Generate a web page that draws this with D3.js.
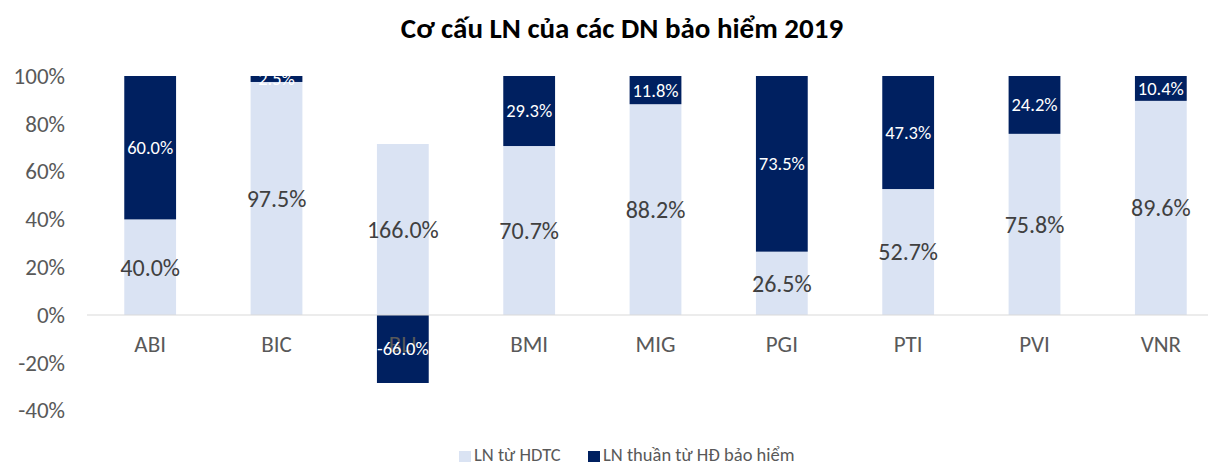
<!DOCTYPE html>
<html>
<head>
<meta charset="utf-8">
<script src="https://cdn.jsdelivr.net/npm/d3@7"></script>
<style>
    body { margin: 0; background: #fff; }
    svg { font-family: Carlito, Lato, "Open Sans", sans-serif; }
</style>
</head>
<body>
<div id="chart"></div>
<script>
const companies = ["ABI", "BIC", "BLI", "BMI", "MIG", "PGI", "PTI", "PVI", "VNR"];
const lnHdtc = [40.0, 97.5, 166.0, 70.7, 88.2, 26.5, 52.7, 75.8, 89.6];
const lnBaoHiem = [60.0, 2.5, -66.0, 29.3, 11.8, 73.5, 47.3, 24.2, 10.4];
const yTicks = [-0.4, -0.2, 0, 0.2, 0.4, 0.6, 0.8, 1.0];
const seriesNames = ["LN từ HDTC", "LN thuần từ HĐ bảo hiểm"];

const width = 1208, height = 465;
const colors = ["#dae3f3", "#002060"];

const svg = d3.select("#chart").append("svg")
    .attr("width", width)
    .attr("height", height);

// 100% stacked: each part is divided by the sum of absolute values (Excel style)
const rows = companies.map(function (c, i) {
    const total = Math.abs(lnHdtc[i]) + Math.abs(lnBaoHiem[i]);
    return {name: c, values: [lnHdtc[i], lnBaoHiem[i]], shares: [lnHdtc[i] / total, lnBaoHiem[i] / total]};
});

const x = d3.scaleBand().domain(companies).range([87, 1224]).paddingInner(0.59).paddingOuter(0.295);
const y = d3.scaleLinear().domain([-0.4, 1.0]).range([410.6, 76]);

// excel uses a plain hyphen for negatives
const pct0 = function (v) { return d3.format(".0%")(v).replace("−", "-"); };
const pct1 = function (v) { return d3.format(".1f")(v).replace("−", "-") + "%"; };

svg.append("text")
    .attr("x", 622).attr("y", 38)
    .attr("text-anchor", "middle")
    .attr("font-size", 29).attr("font-weight", "bold")
    .attr("fill", "#000")
    .text("Cơ cấu LN của các DN bảo hiểm 2019");

// y axis labels, no line
const yAxis = svg.append("g")
    .attr("transform", "translate(65,0)")
    .call(d3.axisLeft(y).tickValues(yTicks).tickFormat(pct0).tickSize(0).tickPadding(0));
yAxis.attr("font-family", null).attr("font-size", 23);
yAxis.select(".domain").remove();
yAxis.selectAll("text").attr("fill", "#595959");

// build segments, positive parts stack up from 0, negative parts go down
const segments = [];
rows.forEach(function (r) {
    let pos = 0, neg = 0;
    r.shares.forEach(function (s, k) {
        let y0, y1;
        if (s >= 0) { y0 = pos; y1 = pos + s; pos = y1; }
        else { y0 = neg; y1 = neg + s; neg = y1; }
        segments.push({name: r.name, k: k, y0: y0, y1: y1, value: r.values[k]});
    });
});

svg.append("g").attr("class", "bars")
    .selectAll("rect")
    .data(segments)
    .enter().append("rect")
    .attr("x", function (d) { return x(d.name); })
    .attr("width", x.bandwidth())
    .attr("y", function (d) { return y(Math.max(d.y0, d.y1)); })
    .attr("height", function (d) { return Math.abs(y(d.y0) - y(d.y1)); })
    .attr("fill", function (d) { return colors[d.k]; });

// zero line
svg.append("line")
    .attr("x1", 87).attr("x2", 1224)
    .attr("y1", y(0)).attr("y2", y(0))
    .attr("stroke", "#d9d9d9").attr("stroke-width", 1.2);

// category labels
const xAxis = svg.append("g")
    .attr("transform", "translate(0," + y(0) + ")")
    .call(d3.axisBottom(x).tickSize(0).tickPadding(21));
xAxis.attr("font-family", null).attr("font-size", 23);
xAxis.select(".domain").remove();
xAxis.selectAll("text").attr("fill", "#595959");

// data labels
svg.append("g").attr("class", "labels")
    .selectAll("text")
    .data(segments)
    .enter().append("text")
    .attr("x", function (d) { return x(d.name) + x.bandwidth() / 2; })
    .attr("y", function (d) { return y((d.y0 + d.y1) / 2); })
    .attr("dy", "0.35em")
    .attr("text-anchor", "middle")
    .attr("font-size", function (d) { return d.k === 0 ? 24 : 18.5; })
    .attr("fill", function (d) { return d.k === 0 ? "#404040" : "#fff"; })
    .text(function (d) { return pct1(d.value); });

// legend
const legend = svg.append("g").attr("class", "legend")
    .selectAll("g")
    .data(seriesNames)
    .enter().append("g")
    .attr("transform", function (d, i) { return "translate(" + [459, 588][i] + ",451)"; });

legend.append("rect")
    .attr("width", 12).attr("height", 11)
    .attr("fill", function (d, i) { return colors[i]; });

legend.append("text")
    .attr("x", 15).attr("y", 10)
    .attr("font-size", 18.5).attr("fill", "#595959")
    .text(function (d) { return d; });
</script>
</body>
</html>
